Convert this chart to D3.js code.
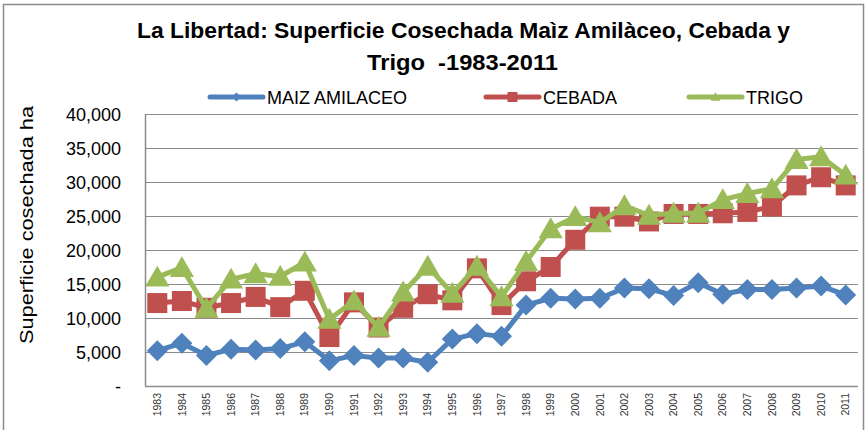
<!DOCTYPE html>
<html>

<head>
    <meta charset="utf-8">
    <title>La Libertad superficie cosechada</title>
    <style>
        body { margin: 0; background: #fff; }
        text { font-family: "Liberation Sans", Arial, sans-serif; }
    </style>
</head>

<body>
    <script src="https://d3js.org/d3.v7.min.js"></script>
    <script>
        // datos (ha)
        let years = ["1983", "1984", "1985", "1986", "1987", "1988", "1989", "1990", "1991", "1992",
            "1993", "1994", "1995", "1996", "1997", "1998", "1999", "2000", "2001", "2002",
            "2003", "2004", "2005", "2006", "2007", "2008", "2009", "2010", "2011"];
        let maiz = [5200, 6300, 4500, 5400, 5300, 5500, 6500, 3700, 4500, 4100,
            4100, 3500, 6900, 7700, 7300, 11900, 12900, 12800, 12900, 14400,
            14300, 13300, 15200, 13500, 14200, 14200, 14400, 14700, 13400];
        let cebada = [12200, 12500, 11500, 12200, 13100, 11600, 14000, 7200, 12300, 8600,
            11500, 13500, 12600, 17300, 11900, 15400, 17500, 21500, 24900, 24900,
            24200, 25300, 25300, 25400, 25600, 26400, 29500, 30700, 29500];
        let trigo = [16000, 17400, 11400, 15700, 16500, 16100, 18200, 9800, 12500, 8600,
            13800, 17600, 13600, 17600, 13100, 18300, 23100, 24900, 24000, 26500,
            25100, 25400, 25400, 27400, 28300, 29000, 33300, 33700, 31000];
        let yTicks = [0, 5000, 10000, 15000, 20000, 25000, 30000, 35000, 40000];

        let width = 867;
        let height = 430;
        let plotLeft = 145, plotRight = 858, plotTop = 114, plotBottom = 386;

        let series = [
            { name: "MAIZ AMILACEO", values: maiz, color: "#4f81bd", shape: "diamond", lx: 210 },
            { name: "CEBADA", values: cebada, color: "#c0504d", shape: "square", lx: 486 },
            { name: "TRIGO", values: trigo, color: "#9bbb59", shape: "triangle", lx: 689 }
        ];

        let svg = d3.select("body").append("svg")
            .attr("width", width)
            .attr("height", height);

        // borde del grafico
        svg.append("rect")
            .attr("x", 3.5).attr("y", 4.5)
            .attr("width", 860).attr("height", 440)
            .attr("fill", "none")
            .attr("stroke", "#8a8a8a")
            .attr("stroke-width", 1.5);

        let x = d3.scaleBand().domain(years).range([plotLeft, plotRight]);
        let y = d3.scaleLinear().domain([0, 40000]).range([plotBottom, plotTop]);
        let cx = function(i) { return x(years[i]) + x.bandwidth() / 2; };

        // lineas de division
        svg.selectAll("line.grid")
            .data(yTicks.filter(function(d) { return d > 0; }))
            .enter()
            .append("line")
            .attr("class", "grid")
            .attr("x1", plotLeft).attr("x2", plotRight)
            .attr("y1", function(d) { return y(d) + 0.5; })
            .attr("y2", function(d) { return y(d) + 0.5; })
            .attr("stroke", "#8c8c8c")
            .attr("stroke-width", 1.2);

        // eje Y
        let yAxis = svg.append("g")
            .attr("transform", "translate(" + (plotLeft - 24) + ",0)")
            .call(d3.axisLeft(y).tickValues(yTicks).tickSize(0)
                .tickFormat(function(d) { return d === 0 ? "-" : d3.format(",")(d); }));
        yAxis.select(".domain").remove();
        yAxis.selectAll("text")
            .attr("x", 0)
            .attr("dy", "0.35em")
            .style("font-size", "18px")
            .style("fill", "#000");

        svg.append("line")
            .attr("x1", plotLeft + 0.5).attr("x2", plotLeft + 0.5)
            .attr("y1", plotTop).attr("y2", plotBottom)
            .attr("stroke", "#8c8c8c").attr("stroke-width", 1.5);
        svg.append("line")
            .attr("x1", plotLeft).attr("x2", plotRight)
            .attr("y1", plotBottom + 0.5).attr("y2", plotBottom + 0.5)
            .attr("stroke", "#8c8c8c").attr("stroke-width", 1.5);

        // eje X, etiquetas verticales
        let xAxis = svg.append("g")
            .attr("transform", "translate(0," + plotBottom + ")")
            .call(d3.axisBottom(x).tickSize(0));
        xAxis.select(".domain").remove();
        xAxis.selectAll("text")
            .attr("transform", "rotate(-90)")
            .attr("x", -7)
            .attr("y", 0)
            .attr("dy", "0.35em")
            .style("text-anchor", "end")
            .style("font-size", "10.5px")
            .style("fill", "#333");

        function markerPath(shape, s) {
            if (shape == "diamond") {
                return "M0," + (-s) + "L" + s + ",0L0," + s + "L" + (-s) + ",0Z";
            }
            if (shape == "square") {
                return "M" + (-s) + "," + (-s) + "H" + s + "V" + s + "H" + (-s) + "Z";
            }
            return "M0," + (-s * 1.05) + "L" + (s * 1.1) + "," + (s * 0.85) + "L" + (-s * 1.1) + "," + (s * 0.85) + "Z";
        }

        let markerSize = { diamond: 10.5, square: 10, triangle: 11 };

        let line = d3.line()
            .x(function(d, i) { return cx(i); })
            .y(function(d) { return y(d); });

        series.forEach(function(s) {
            svg.append("path")
                .datum(s.values)
                .attr("d", line)
                .attr("fill", "none")
                .attr("stroke", s.color)
                .attr("stroke-width", 5)
                .attr("stroke-linejoin", "round");

            svg.selectAll("path.m-" + s.shape)
                .data(s.values)
                .enter()
                .append("path")
                .attr("class", "m-" + s.shape)
                .attr("transform", function(d, i) { return "translate(" + cx(i) + "," + y(d) + ")"; })
                .attr("d", markerPath(s.shape, markerSize[s.shape]))
                .attr("fill", s.color);
        });

        // leyenda
        let legendY = 97;
        series.forEach(function(s) {
            svg.append("line")
                .attr("x1", s.lx).attr("x2", s.lx + 53)
                .attr("y1", legendY).attr("y2", legendY)
                .attr("stroke", s.color)
                .attr("stroke-width", 5)
                .attr("stroke-linecap", "round");
            svg.append("path")
                .attr("transform", "translate(" + (s.lx + 26.5) + "," + legendY + ")")
                .attr("d", markerPath(s.shape, s.shape == "square" ? 5 : 4.5))
                .attr("fill", s.color);
            svg.append("text")
                .attr("x", s.lx + 57)
                .attr("y", legendY + 6.5)
                .style("font-size", "18px")
                .text(s.name);
        });

        // titulo
        svg.append("text")
            .attr("x", 137).attr("y", 38)
            .attr("textLength", 653)
            .attr("lengthAdjust", "spacingAndGlyphs")
            .style("font-size", "22px")
            .style("font-weight", "bold")
            .text("La Libertad: Superficie Cosechada Maìz Amilàceo, Cebada y");
        svg.append("text")
            .attr("x", 367).attr("y", 70)
            .attr("textLength", 191)
            .attr("lengthAdjust", "spacingAndGlyphs")
            .style("font-size", "22px")
            .style("font-weight", "bold")
            .style("white-space", "pre")
            .text("Trigo  -1983-2011");

        // titulo eje Y
        svg.append("text")
            .attr("transform", "translate(33,225) rotate(-90)")
            .attr("text-anchor", "middle")
            .attr("textLength", 238)
            .attr("lengthAdjust", "spacingAndGlyphs")
            .style("font-size", "19px")
            .text("Superficie cosechada ha");
    </script>
</body>

</html>
